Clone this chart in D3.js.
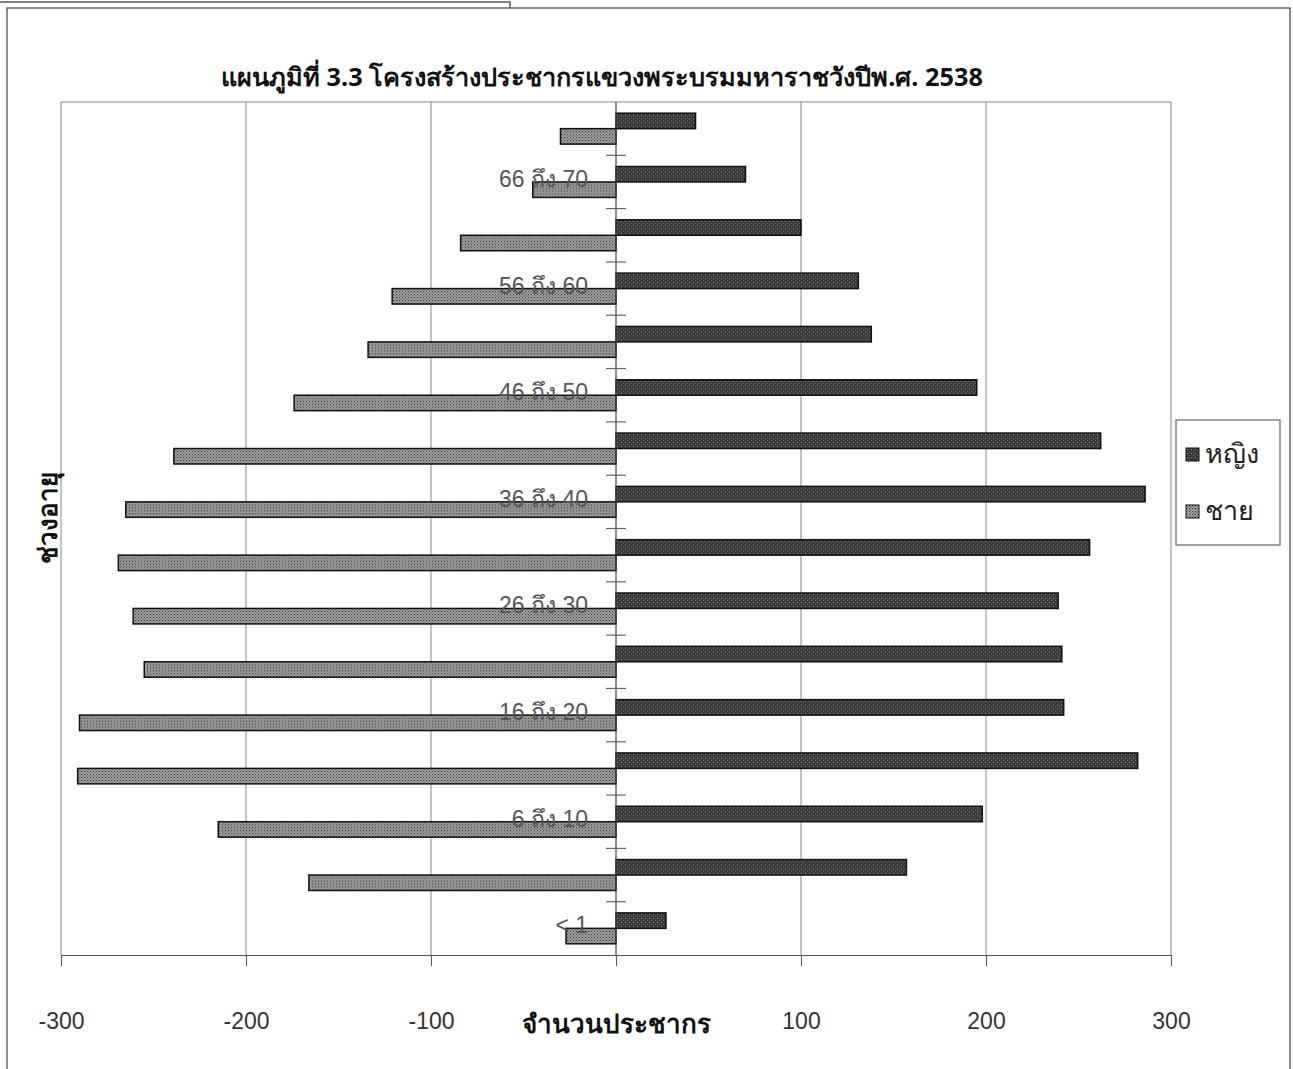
<!DOCTYPE html>
<html>
<head>
<meta charset="utf-8">
<script src="https://cdn.jsdelivr.net/npm/d3@7"></script>
<style>
  body { margin: 0; background: #fff; }
  svg { display: block; }
</style>
</head>
<body>
<svg id="chart" width="1293" height="1069"></svg>
<script>
// --- 1. DATA ---
// age groups, bottom (<1) to top
var ageGroups = ["< 1", "1 ถึง 5", "6 ถึง 10", "11 ถึง 15", "16 ถึง 20", "21 ถึง 25",
                 "26 ถึง 30", "31 ถึง 35", "36 ถึง 40", "41 ถึง 45", "46 ถึง 50",
                 "51 ถึง 55", "56 ถึง 60", "61 ถึง 65", "66 ถึง 70", "71 ขึ้นไป"];
var female = [27, 157, 198, 282, 242, 241, 239, 256, 286, 262, 195, 138, 131, 100, 70, 43];
var male   = [-27, -166, -215, -291, -290, -255, -261, -269, -265, -239, -174, -134, -121, -84, -45, -30];
var seriesNames = ["หญิง", "ชาย"];
var xTicks = [-300, -200, -100, 0, 100, 200, 300];

var titleText = "แผนภูมิที่ 3.3 โครงสร้างประชากรแขวงพระบรมมหาราชวังปีพ.ศ. 2538";
var xTitle = "จำนวนประชากร";
var yTitle = "ช่วงอายุ";

// --- 2. SETUP ---
var svg = d3.select("#chart");
var thaiFont = "'Noto Sans', 'DejaVu Sans', sans-serif";
var numFont = "'Liberation Sans', Arial, sans-serif";

var plot = { left: 61, right: 1171, top: 102, bottom: 955 };

var x = d3.scaleLinear().domain([-300, 300]).range([plot.left, plot.right]);

// top of the chart is the oldest group
var y = d3.scaleBand()
    .domain(ageGroups.slice().reverse())
    .range([plot.top, plot.bottom])
    .paddingInner(0.42)
    .paddingOuter(0.21);

var sub = d3.scaleBand().domain(seriesNames).range([0, y.bandwidth()]);

var rows = ageGroups.map(function(g, i) {
    return { group: g, "หญิง": female[i], "ชาย": male[i] };
});

// hatch patterns (scanned look)
var defs = svg.append("defs");
var pf = defs.append("pattern").attr("id", "patF")
    .attr("width", 4).attr("height", 4).attr("patternUnits", "userSpaceOnUse");
pf.append("rect").attr("width", 4).attr("height", 4).attr("fill", "#3a3a3a");
pf.append("rect").attr("x", 1).attr("y", 1).attr("width", 1).attr("height", 1).attr("fill", "#8a8a8a");
pf.append("rect").attr("x", 3).attr("y", 3).attr("width", 1).attr("height", 1).attr("fill", "#6a6a6a");

var pm = defs.append("pattern").attr("id", "patM")
    .attr("width", 3).attr("height", 3).attr("patternUnits", "userSpaceOnUse");
pm.append("rect").attr("width", 3).attr("height", 3).attr("fill", "#a0a0a0");
pm.append("rect").attr("x", 0).attr("y", 0).attr("width", 1).attr("height", 1).attr("fill", "#333");
pm.append("rect").attr("x", 1.5).attr("y", 1.5).attr("width", 1).attr("height", 1).attr("fill", "#4a4a4a");

var fills = { "หญิง": "url(#patF)", "ชาย": "url(#patM)" };

// --- 3. FRAME ---
svg.append("path")
    .attr("d", "M0,2H510V8")
    .attr("fill", "none").attr("stroke", "#555").attr("stroke-width", 1.5);
svg.append("rect")
    .attr("x", 7).attr("y", 8).attr("width", 1283).attr("height", 1070)
    .attr("fill", "none").attr("stroke", "#444").attr("stroke-width", 1.2);

// title
svg.append("text")
    .attr("x", 602).attr("y", 86)
    .attr("text-anchor", "middle")
    .attr("font-family", thaiFont).attr("font-weight", "bold")
    .attr("font-size", 25.3).attr("fill", "#111")
    .text(titleText);

// --- 4. GRID + AXES ---
svg.append("line")
    .attr("x1", plot.left).attr("x2", plot.right)
    .attr("y1", plot.top).attr("y2", plot.top)
    .attr("stroke", "#888").attr("stroke-width", 1);

svg.append("g").selectAll("line")
    .data(xTicks.filter(function(d) { return d !== 0; }))
    .enter().append("line")
    .attr("x1", function(d) { return x(d); }).attr("x2", function(d) { return x(d); })
    .attr("y1", plot.top).attr("y2", plot.bottom)
    .attr("stroke", "#888").attr("stroke-width", 1);

var xAxis = svg.append("g")
    .attr("transform", "translate(0," + plot.bottom + ")")
    .call(d3.axisBottom(x).tickValues(xTicks).tickSize(11).tickPadding(47)
        .tickFormat(function(d) { return d === 0 ? "" : d; }));
xAxis.select(".domain").attr("stroke", "#555");
xAxis.selectAll(".tick line").attr("stroke", "#555");
xAxis.selectAll("text")
    .attr("font-family", numFont).attr("font-size", 23).attr("fill", "#333");

// --- 5. BARS ---
svg.append("g").selectAll("g")
    .data(rows)
    .enter().append("g")
    .attr("transform", function(d) { return "translate(0," + y(d.group) + ")"; })
    .selectAll("rect")
    .data(function(d) { return seriesNames.map(function(k) { return { key: k, value: d[k] }; }); })
    .enter().append("rect")
    .attr("x", function(d) { return x(Math.min(0, d.value)); })
    .attr("y", function(d) { return sub(d.key); })
    .attr("width", function(d) { return Math.abs(x(d.value) - x(0)); })
    .attr("height", sub.bandwidth())
    .attr("fill", function(d) { return fills[d.key]; })
    .attr("stroke", "#111").attr("stroke-width", 1.5);

// zero axis with ticks at band boundaries
svg.append("line")
    .attr("x1", x(0)).attr("x2", x(0))
    .attr("y1", plot.top).attr("y2", plot.bottom)
    .attr("stroke", "#444").attr("stroke-width", 1.2);

var step = y.step();
svg.append("g").selectAll("line")
    .data(d3.range(1, ageGroups.length))
    .enter().append("line")
    .attr("x1", x(0) - 10).attr("x2", x(0) + 10)
    .attr("y1", function(i) { return plot.top + i * step; })
    .attr("y2", function(i) { return plot.top + i * step; })
    .attr("stroke", "#666").attr("stroke-width", 1.2);

// category labels (every other one), drawn over the bars
var yAxis = svg.append("g")
    .attr("transform", "translate(" + x(0) + ",0)")
    .call(d3.axisLeft(y)
        .tickValues(ageGroups.filter(function(d, i) { return i % 2 === 0; }))
        .tickSize(0).tickPadding(28));
yAxis.select(".domain").remove();
yAxis.selectAll("text")
    .attr("dy", 5)
    .attr("font-family", numFont).attr("font-size", 23).attr("fill", "#555");

// axis titles
svg.append("text")
    .attr("x", x(0)).attr("y", 1033)
    .attr("text-anchor", "middle")
    .attr("font-family", thaiFont).attr("font-weight", "bold")
    .attr("font-size", 26).attr("fill", "#111")
    .text(xTitle);

svg.append("text")
    .attr("transform", "translate(57,518) rotate(-90)")
    .attr("text-anchor", "middle")
    .attr("font-family", thaiFont).attr("font-weight", "bold")
    .attr("font-size", 26).attr("fill", "#111")
    .text(yTitle);

// --- 6. LEGEND ---
var legend = svg.append("g").attr("transform", "translate(1176,420)");
legend.append("rect")
    .attr("width", 104).attr("height", 125)
    .attr("fill", "#fff").attr("stroke", "#666").attr("stroke-width", 1.2);

var items = legend.selectAll("g.item")
    .data(seriesNames)
    .enter().append("g").attr("class", "item")
    .attr("transform", function(d, i) { return "translate(10," + (28 + i * 57) + ")"; });
items.append("rect")
    .attr("width", 13).attr("height", 13)
    .attr("fill", function(d) { return fills[d]; })
    .attr("stroke", "#111").attr("stroke-width", 1);
items.append("text")
    .attr("x", 19).attr("y", 15)
    .attr("font-family", thaiFont).attr("font-size", 27).attr("fill", "#222")
    .text(function(d) { return d; });
</script>
</body>
</html>
